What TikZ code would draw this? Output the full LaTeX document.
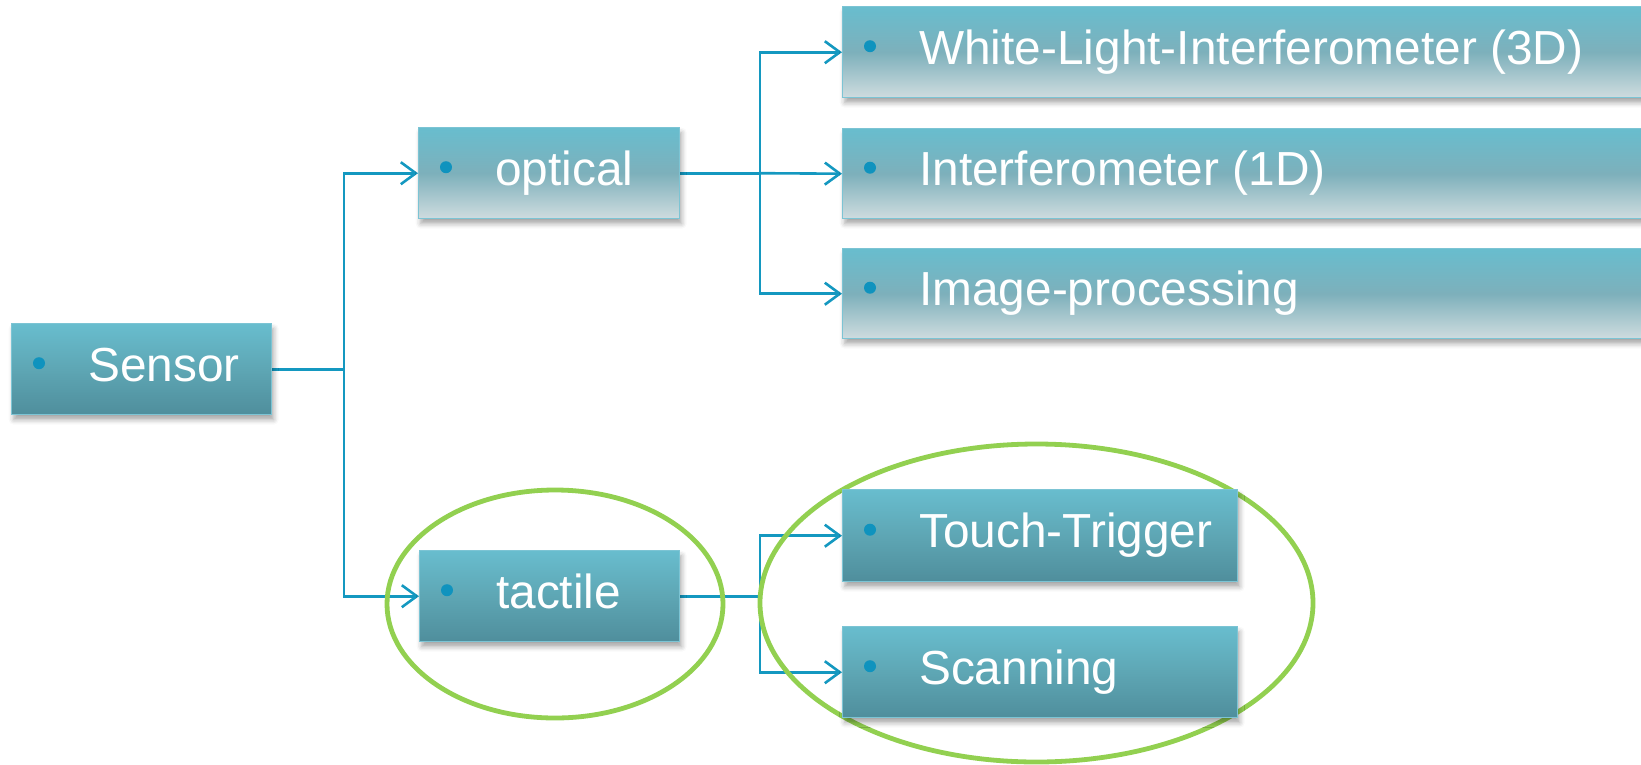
\documentclass[tikz,border=0pt]{standalone}
\usepackage{fontspec}
\setmainfont{Liberation Sans}
\usetikzlibrary{arrows.meta,calc,shadows.blur}

\definecolor{boxtop}{HTML}{68BDCE}
\definecolor{boxmid}{HTML}{5EA6B4}
\definecolor{boxbot}{HTML}{4F8E9C}
\definecolor{palemid}{HTML}{7DB0BB}
\definecolor{palebot}{HTML}{CFDCDF}
\definecolor{boxedge}{HTML}{7CC4D4}
\definecolor{wirec}{HTML}{1498C0}
\definecolor{bulletc}{HTML}{0F93BE}
\definecolor{ringc}{HTML}{92D050}

\pgfdeclarelayer{back}
\pgfsetlayers{back,main}

% bullet and caption inside a box
\newcommand\putlabel[2]{%
  \node[bulletdot] (#1-dot) at ($(#1.west)+(28,-6)$) {};
  \node[caption] (#1-txt) at ($(#1.west)+(77,12)$) {#2};}

\begin{document}
\begin{tikzpicture}[x=1pt,y=-1pt,
  box/.style={draw=boxedge, line width=1.4pt, anchor=north west, inner sep=0pt,
    blur shadow={shadow xshift=2pt, shadow yshift=-5pt, shadow blur radius=5pt, shadow opacity=35}},
  darkbox/.style={box, top color=boxtop, bottom color=boxbot, middle color=boxmid},
  palebox/.style={box, top color=boxtop, bottom color=palebot, middle color=palemid},
  bulletdot/.style={circle, fill=bulletc, inner sep=0pt, minimum size=12pt},
  caption/.style={anchor=base west, inner sep=0pt, text=white, font=\fontsize{47.8}{56}\selectfont},
  wire/.style={draw=wirec, line width=2.6pt},
  arrowed/.style={wire, -{Straight Barb[length=15pt,width=22pt,line width=2.6pt]}},
  ring/.style={draw=ringc, line width=4.8pt}]

\useasboundingbox (0,0) rectangle (1641,764);

% boxes
\node[darkbox, minimum width=260pt, minimum height=91pt] (sensor)  at (11,323)  {};
\node[palebox, minimum width=261pt, minimum height=91pt] (optical) at (418,127) {};
\node[darkbox, minimum width=260pt, minimum height=91pt] (tactile) at (419,550) {};
\node[palebox, minimum width=818pt, minimum height=91pt] (wli)     at (842,6)   {};
\node[palebox, minimum width=818pt, minimum height=90pt] (interf)  at (842,128) {};
\node[palebox, minimum width=818pt, minimum height=90pt] (imgp)    at (842,248) {};
\node[darkbox, minimum width=395pt, minimum height=92pt] (touch)   at (842,489) {};
\node[darkbox, minimum width=395pt, minimum height=91pt] (scan)    at (842,626) {};

\putlabel{sensor}{Sensor}
\putlabel{optical}{optical}
\putlabel{tactile}{tactile}
\putlabel{wli}{White-Light-Interferometer (3D)}
\putlabel{interf}{Interferometer (1D)}
\putlabel{imgp}{Image-processing}
\putlabel{touch}{Touch-Trigger}
\putlabel{scan}{Scanning}

\begin{pgfonlayer}{back}
  % tree connectors
  \coordinate (j1) at (344,0);
  \coordinate (j2) at (760,0);
  \draw[wire] (sensor.east) -- (sensor.east -| j1);
  \draw[arrowed] (sensor.east -| j1) |- (optical.west);
  \draw[arrowed] (sensor.east -| j1) |- (tactile.west);
  \draw[wire] (optical.east) -- (optical.east -| j2);
  \draw[arrowed] (optical.east -| j2) |- (wli.west);
  \draw[arrowed] (optical.east -| j2) -- (interf.west);
  \draw[arrowed] (optical.east -| j2) |- (imgp.west);
  \draw[wire] (tactile.east) -- (tactile.east -| j2);
  \draw[arrowed] (tactile.east -| j2) |- (touch.west);
  \draw[arrowed] (tactile.east -| j2) |- (scan.west);
  % highlight rings
  \draw[ring] (555,604) ellipse [x radius=168pt, y radius=114pt];
  \draw[ring] (1036.5,603) ellipse [x radius=276.5pt, y radius=159pt];
\end{pgfonlayer}
\end{tikzpicture}
\end{document}
